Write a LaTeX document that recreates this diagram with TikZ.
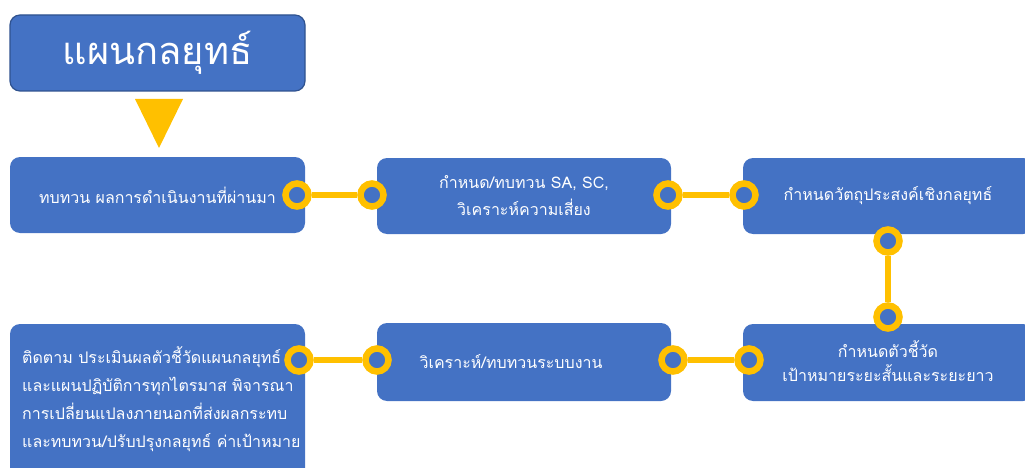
\documentclass[tikz,border=0pt]{standalone}
\usepackage{fontspec}
\newfontfamily\thaifont[Script=Thai]{Loma}
\definecolor{boxblue}{HTML}{4472C4}
\definecolor{edgeblue}{HTML}{2F528F}
\definecolor{gold}{HTML}{FFC000}
\tikzset{
  stepbox/.style={rectangle, rounded corners=10pt, fill=boxblue, draw=none,
    text=white, font=\thaifont\fontsize{16}{27}\selectfont, align=center,
    inner sep=0pt},
  titlebox/.style={stepbox, draw=edgeblue, line width=1.2pt,
    font=\thaifont\fontsize{38}{44}\selectfont},
  ring/.style={circle, minimum size=23pt, inner sep=0pt, fill=boxblue,
    draw=gold, line width=6.5pt},
  link/.style={draw=gold, line width=5.5pt}
}
\begin{document}
\begin{tikzpicture}[x=1pt,y=-1pt]
\useasboundingbox (0,0) rectangle (1025,468);

% heading and pointer
\node[titlebox, minimum width=295pt, minimum height=76pt] (title) at (157.5,53) {แผนกลยุทธ์};
\fill[gold] (135,99) -- (183,99) -- (159,148) -- cycle;

% first row
\node[stepbox, minimum width=295pt, minimum height=76pt] (s1) at (157.5,195) {ทบทวน ผลการดำเนินงานที่ผ่านมา};
\node[stepbox, minimum width=294pt, minimum height=76pt] (s2) at (524,196) {กำหนด/ทบทวน SA, SC,\\วิเคราะห์ความเสี่ยง};
\node[stepbox, minimum width=290pt, minimum height=76pt] (s3) at (888,196) {กำหนดวัตถุประสงค์เชิงกลยุทธ์};

% second row
\node[stepbox, minimum width=295pt, minimum height=160pt] (s6) at (157.5,404) {};
\node[anchor=west, text=white, align=left, inner sep=0pt,
  font=\thaifont\fontsize{16}{28}\selectfont] (s6text) at (22,399)
  {ติดตาม ประเมินผลตัวชี้วัดแผนกลยุทธ์\\และแผนปฏิบัติการทุกไตรมาส พิจารณา\\การเปลี่ยนแปลงภายนอกที่ส่งผลกระทบ\\และทบทวน/ปรับปรุงกลยุทธ์ ค่าเป้าหมาย};
\node[stepbox, minimum width=294pt, minimum height=78pt] (s5) at (524,362) {\hspace*{-26pt}วิเคราะห์/ทบทวนระบบงาน};
\node[stepbox, minimum width=290pt, minimum height=77pt] (s4) at (888,362.5) {\raisebox{3pt}{\shortstack{กำหนดตัวชี้วัด\\[4pt]เป้าหมายระยะสั้นและระยะยาว}}};

% joints
\node[ring] (r1a) at (297,195) {};
\node[ring] (r1b) at (372,195) {};
\node[ring] (r2a) at (668,195) {};
\node[ring] (r2b) at (744,195) {};
\node[ring] (r3a) at (888,241) {};
\node[ring] (r3b) at (888,317) {};
\node[ring] (r4a) at (673,360) {};
\node[ring] (r4b) at (749,360) {};
\node[ring] (r5a) at (299,360) {};
\node[ring] (r5b) at (377,360) {};

% connectors
\draw[link] (r1a) -- (r1b);
\draw[link] (r2a) -- (r2b);
\draw[link] (r3a) -- (r3b);
\draw[link] (r4a) -- (r4b);
\draw[link] (r5a) -- (r5b);
\end{tikzpicture}
\end{document}
